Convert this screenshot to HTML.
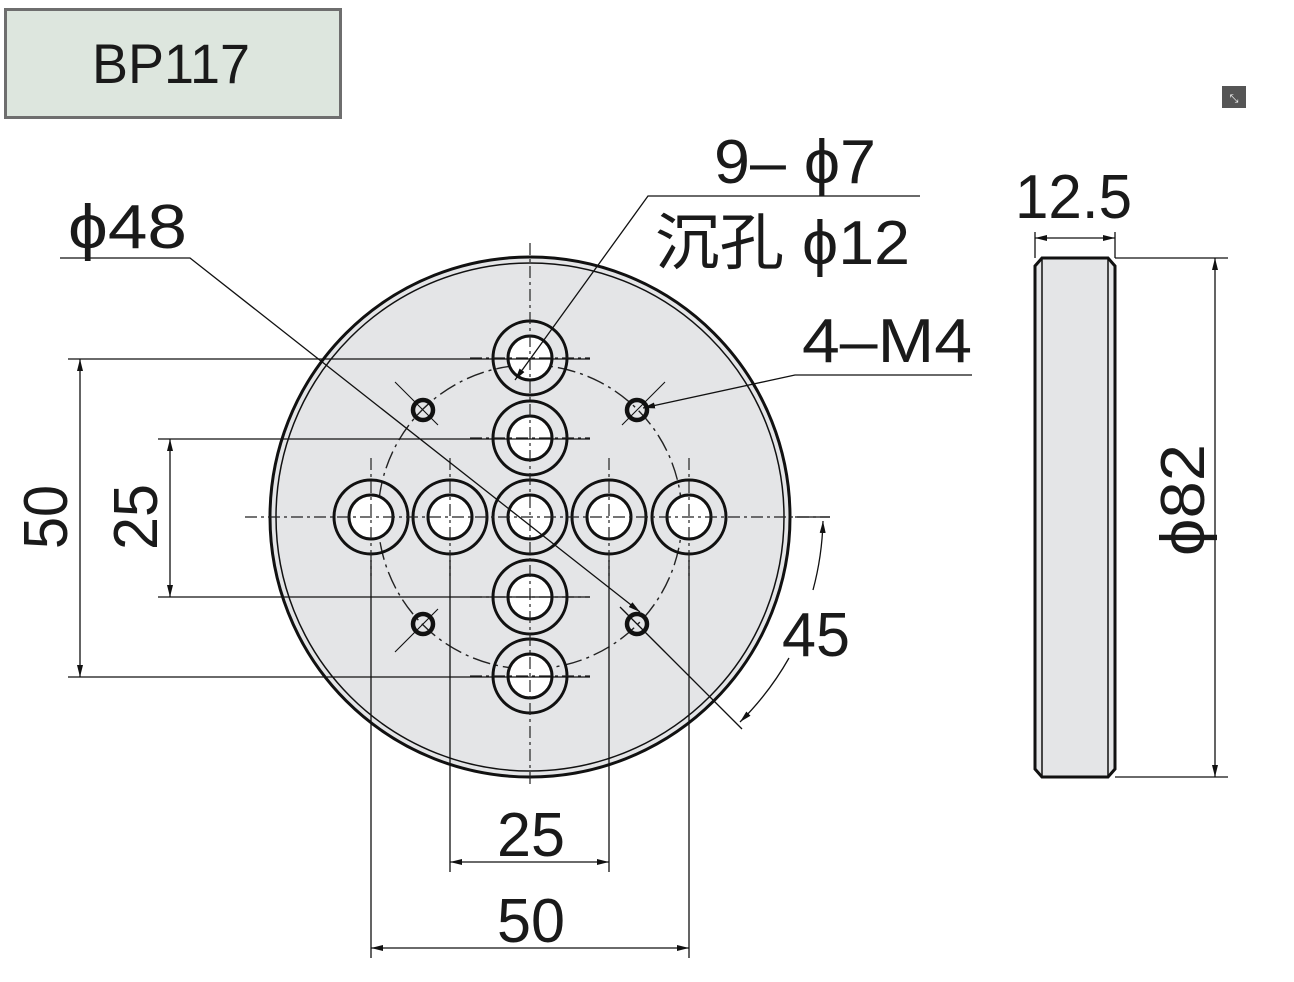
<!DOCTYPE html>
<html><head><meta charset="utf-8"><style>
html,body{margin:0;padding:0;background:#fff;}
svg{display:block;}
text{font-family:"Liberation Sans","Noto Sans CJK SC",sans-serif;fill:#1a1a1a;}
</style></head><body>
<svg width="1294" height="982" viewBox="0 0 1294 982" xmlns="http://www.w3.org/2000/svg">
<defs>
<marker id="a" viewBox="0 0 12 6" refX="12" refY="3" markerWidth="12" markerHeight="6" orient="auto-start-reverse" markerUnits="userSpaceOnUse"><path d="M0,0 L12,3 L0,6 z" fill="#111"/></marker>
</defs>
<rect x="5.5" y="9.5" width="335" height="108" fill="#dde6de" stroke="#6e6e6e" stroke-width="3"/>
<text x="92" y="83" font-size="56" textLength="158" lengthAdjust="spacingAndGlyphs">BP117</text>
<rect x="1222" y="86" width="24" height="22" fill="#555"/>
<text x="1234" y="102" font-size="11" text-anchor="middle" style="fill:#fff">⤡</text>

<circle cx="530" cy="517" r="260" fill="#e4e5e7" stroke="#111" stroke-width="3"/>
<circle cx="530" cy="517" r="254" fill="none" stroke="#111" stroke-width="1.5"/>

<g stroke="#222" stroke-width="1.4" fill="none" stroke-dasharray="18,5,3,5">
<circle cx="530" cy="517" r="152"/>
</g>

<g stroke="#111" stroke-width="3">
<g fill="none">
<circle cx="530" cy="358" r="37"/><circle cx="530" cy="438" r="37"/><circle cx="530" cy="517" r="37"/>
<circle cx="530" cy="597" r="37"/><circle cx="530" cy="676" r="37"/>
<circle cx="371" cy="517" r="37"/><circle cx="450" cy="517" r="37"/>
<circle cx="609" cy="517" r="37"/><circle cx="689" cy="517" r="37"/>
</g>
<g fill="#fff">
<circle cx="530" cy="358" r="22"/><circle cx="530" cy="438" r="22"/><circle cx="530" cy="517" r="22"/>
<circle cx="530" cy="597" r="22"/><circle cx="530" cy="676" r="22"/>
<circle cx="371" cy="517" r="22"/><circle cx="450" cy="517" r="22"/>
<circle cx="609" cy="517" r="22"/><circle cx="689" cy="517" r="22"/>
</g>
</g>
<g stroke="#222" stroke-width="1.2" stroke-dasharray="12,4,3,4">
<line x1="245" y1="517" x2="830" y2="517"/>
<line x1="530" y1="243" x2="530" y2="785"/>
<line x1="371" y1="458" x2="371" y2="576"/><line x1="450" y1="458" x2="450" y2="576"/>
<line x1="609" y1="458" x2="609" y2="576"/><line x1="689" y1="458" x2="689" y2="576"/>
<line x1="470" y1="358" x2="590" y2="358"/><line x1="470" y1="438" x2="590" y2="438"/>
<line x1="470" y1="597" x2="590" y2="597"/><line x1="470" y1="676" x2="590" y2="676"/>
</g>
<g fill="none" stroke="#111">
<circle cx="423" cy="410" r="10" stroke-width="4.5"/><circle cx="637" cy="410" r="10" stroke-width="4.5"/>
<circle cx="423" cy="624" r="10" stroke-width="4.5"/><circle cx="637" cy="624" r="10" stroke-width="4.5"/>
<g stroke-width="1.1">
<line x1="395" y1="382" x2="438" y2="425"/><line x1="665" y1="382" x2="622" y2="425"/>
<line x1="395" y1="652" x2="438" y2="609"/><line x1="665" y1="652" x2="622" y2="609"/>
</g>
</g>

<g stroke="#111" stroke-width="1.3" fill="none">
<line x1="68" y1="359" x2="590" y2="359"/>
<line x1="68" y1="677" x2="590" y2="677"/>
<line x1="80" y1="359" x2="80" y2="677" marker-start="url(#a)" marker-end="url(#a)"/>
<line x1="158" y1="439" x2="590" y2="439"/>
<line x1="158" y1="597" x2="590" y2="597"/>
<line x1="170" y1="439" x2="170" y2="597" marker-start="url(#a)" marker-end="url(#a)"/>
<line x1="450" y1="560" x2="450" y2="872"/>
<line x1="609" y1="560" x2="609" y2="872"/>
<line x1="450" y1="862" x2="609" y2="862" marker-start="url(#a)" marker-end="url(#a)"/>
<line x1="371" y1="560" x2="371" y2="958"/>
<line x1="689" y1="560" x2="689" y2="958"/>
<line x1="371" y1="948" x2="689" y2="948" marker-start="url(#a)" marker-end="url(#a)"/>
<polyline points="60,258 190,258 640,612" marker-end="url(#a)"/>
<line x1="620" y1="607" x2="742" y2="729"/>
<line x1="795" y1="517" x2="830" y2="517"/>
<path d="M823,521 A294,294 0 0 1 813,590" marker-start="url(#a)"/>
<path d="M789,658 A294,294 0 0 1 740,722" marker-end="url(#a)"/>
<polyline points="920,196 648,196 515,380" marker-end="url(#a)"/>
<polyline points="972,375 795,375 643,408" marker-end="url(#a)"/>
</g>

<g stroke="#111" fill="none">
<path d="M1042,258 L1108,258 L1115,266 L1115,769 L1108,777 L1042,777 L1035,769 L1035,266 Z" fill="#e4e5e7" stroke-width="3"/>
<line x1="1042" y1="258" x2="1042" y2="777" stroke-width="1.5"/>
<line x1="1108" y1="258" x2="1108" y2="777" stroke-width="1.5"/>
<g stroke-width="1.3">
<line x1="1035" y1="232" x2="1035" y2="258"/>
<line x1="1115" y1="232" x2="1115" y2="258"/>
<line x1="1035" y1="238" x2="1115" y2="238" marker-start="url(#a)" marker-end="url(#a)"/>
<line x1="1115" y1="258" x2="1228" y2="258"/>
<line x1="1115" y1="777" x2="1228" y2="777"/>
<line x1="1215" y1="258" x2="1215" y2="777" marker-start="url(#a)" marker-end="url(#a)"/>
</g>
</g>

<g font-size="62">
<text x="714" y="183" textLength="162" lengthAdjust="spacingAndGlyphs">9– ϕ7</text>
<text x="655" y="264" textLength="255" lengthAdjust="spacingAndGlyphs">沉孔 ϕ12</text>
<text x="68" y="248" textLength="119" lengthAdjust="spacingAndGlyphs">ϕ48</text>
<text x="802" y="362" textLength="170" lengthAdjust="spacingAndGlyphs">4–M4</text>
<text x="782" y="656" textLength="68" lengthAdjust="spacingAndGlyphs">45</text>
<text x="1015" y="218" textLength="117" lengthAdjust="spacingAndGlyphs">12.5</text>
<text x="497" y="856" textLength="68" lengthAdjust="spacingAndGlyphs">25</text>
<text x="497" y="942" textLength="68" lengthAdjust="spacingAndGlyphs">50</text>
<text transform="translate(67,549) rotate(-90)" textLength="64" lengthAdjust="spacingAndGlyphs">50</text>
<text transform="translate(157,550) rotate(-90)" textLength="66" lengthAdjust="spacingAndGlyphs">25</text>
<text transform="translate(1204,556) rotate(-90)" textLength="112" lengthAdjust="spacingAndGlyphs">ϕ82</text>
</g>
</svg>
</body></html>
